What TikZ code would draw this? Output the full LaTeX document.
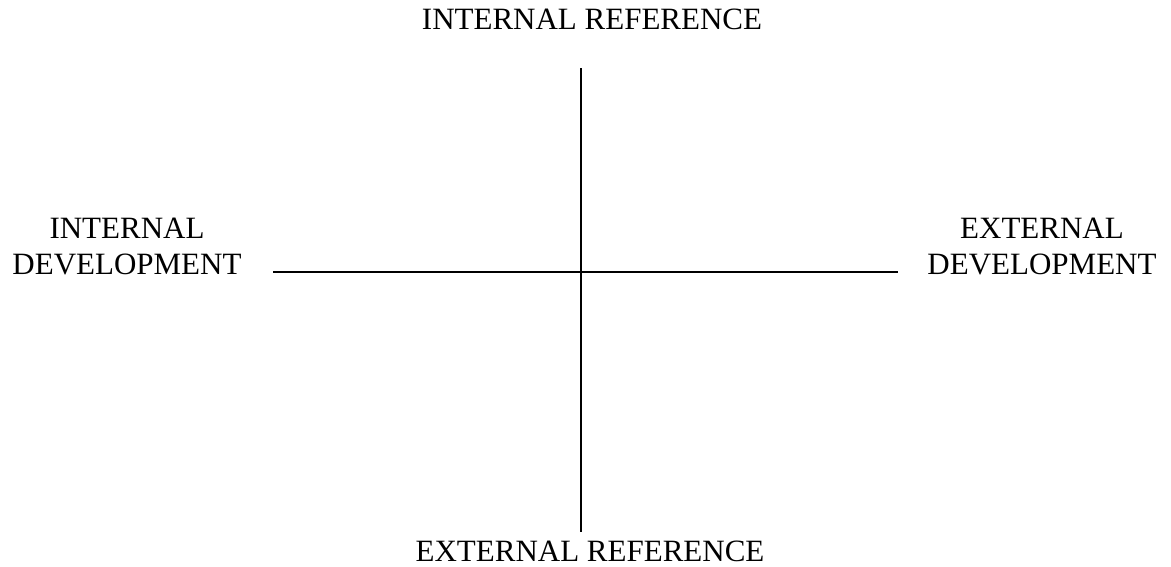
\documentclass[tikz,border=0pt]{standalone}
\usepackage{fontspec}
\setmainfont{Liberation Serif}
\begin{document}
\begin{tikzpicture}[x=1pt,y=1pt,
  lbl/.style={inner sep=0pt,font=\fontsize{31}{36}\selectfont,align=center},
  axis/.style={line width=1.6pt,black}]
\useasboundingbox (0,0) rectangle (1171,-566);
\node[lbl,anchor=base] (ir) at (592,-29) {INTERNAL REFERENCE};
\node[lbl,anchor=base] (er) at (590,-561) {EXTERNAL REFERENCE};
\node[lbl,anchor=base] (id) at (127,-274) {INTERNAL\\DEVELOPMENT};
\node[lbl,anchor=base] (ed) at (1042,-274) {EXTERNAL\\DEVELOPMENT};
\coordinate (vt) at (581,-68);
\coordinate (vb) at (581,-532);
\coordinate (hl) at (273,-272);
\coordinate (hr) at (898,-272);
\draw[axis] (vt) -- (vb);
\draw[axis] (hl) -- (hr);
\end{tikzpicture}
\end{document}
